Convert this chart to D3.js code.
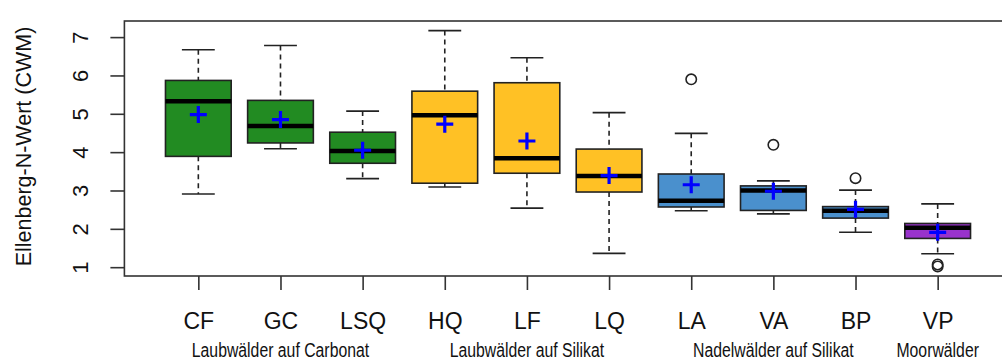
<!DOCTYPE html>
<html>
<head>
<meta charset="utf-8">
<script src="https://cdn.jsdelivr.net/npm/d3@7"></script>
<style>
  html, body { margin: 0; padding: 0; background: #fff; }
  svg { display: block; }
  text { font-family: "Liberation Sans", Arial, Helvetica, sans-serif; fill: #111; }
</style>
</head>
<body>
<div id="chart"></div>
<script>
// Ellenberg N indicator values (community weighted means) per forest type
const categories  = ["CF", "GC", "LSQ", "HQ", "LF", "LQ", "LA", "VA", "BP", "VP"];
const whiskerLow  = [2.91, 4.09, 3.31, 3.09, 2.54, 1.36, 2.47, 2.39, 1.91, 1.35];
const q1          = [3.89, 4.24, 3.71, 3.19, 3.45, 2.96, 2.57, 2.48, 2.28, 1.75];
const medians     = [5.33, 4.68, 4.03, 4.96, 3.84, 3.38, 2.73, 3.00, 2.47, 2.03];
const q3          = [5.87, 5.35, 4.52, 5.59, 5.81, 4.08, 3.43, 3.12, 2.58, 2.14];
const whiskerHigh = [6.67, 6.78, 5.07, 7.17, 6.46, 5.03, 4.49, 3.25, 3.01, 2.65];
const means       = [4.98, 4.85, 4.05, 4.73, 4.29, 3.39, 3.15, 2.98, 2.51, 1.91];
const outliers    = [[], [], [], [], [], [], [5.90], [4.19], [3.32], [1.07, 1.02]];

// forest group of each category and the group captions under the axis
const groupIndex   = [0, 0, 0, 1, 1, 1, 2, 2, 2, 3];
const groupLabels  = ["Laubwälder auf Carbonat", "Laubwälder auf Silikat", "Nadelwälder auf Silikat", "Moorwälder"];
const groupCenters = ["GC", "LF", "VA", "VP"];
const groupColors  = ["#228B22", "#FFC125", "#4A90CD", "#9932CC"];

const yTicks = [1, 2, 3, 4, 5, 6, 7];
const yTitle = "Ellenberg-N-Wert (CWM)";

const W = 1002, H = 360;
const plot = { left: 124.4, right: 1011.6, top: 21, bottom: 276 };

const svg = d3.select("#chart").append("svg")
  .attr("width", W).attr("height", H);

// box positions 1..n, padded like a base boxplot
const x = d3.scaleLinear()
  .domain([0.1, categories.length + 0.9])
  .range([plot.left, plot.right]);
const step = x(2) - x(1);
const boxW = step * 0.8;
const capW = boxW * 0.5;

const y = d3.scaleLinear()
  .domain([0.77, 7.42])
  .range([plot.bottom, plot.top]);

const data = categories.map((c, i) => ({
  cat: c, i: i + 1,
  lo: whiskerLow[i], q1: q1[i], med: medians[i], q3: q3[i], hi: whiskerHigh[i],
  mean: means[i], out: outliers[i], color: groupColors[groupIndex[i]]
}));

const g = svg.append("g");
const box = g.selectAll("g.box").data(data).join("g").attr("class", "box");

// dashed whiskers
box.append("line")
  .attr("x1", d => x(d.i)).attr("x2", d => x(d.i))
  .attr("y1", d => y(d.hi)).attr("y2", d => y(d.q3))
  .attr("stroke", "#222").attr("stroke-width", 1.6).attr("stroke-dasharray", "5,4");
box.append("line")
  .attr("x1", d => x(d.i)).attr("x2", d => x(d.i))
  .attr("y1", d => y(d.q1)).attr("y2", d => y(d.lo))
  .attr("stroke", "#222").attr("stroke-width", 1.6).attr("stroke-dasharray", "5,4");

// whisker caps
["hi", "lo"].forEach(k => {
  box.append("line")
    .attr("x1", d => x(d.i) - capW / 2).attr("x2", d => x(d.i) + capW / 2)
    .attr("y1", d => y(d[k])).attr("y2", d => y(d[k]))
    .attr("stroke", "#222").attr("stroke-width", 1.6);
});

// interquartile boxes
box.append("rect")
  .attr("x", d => x(d.i) - boxW / 2).attr("width", boxW)
  .attr("y", d => y(d.q3)).attr("height", d => y(d.q1) - y(d.q3))
  .attr("fill", d => d.color).attr("stroke", "#222").attr("stroke-width", 1.6);

// medians
box.append("line")
  .attr("x1", d => x(d.i) - boxW / 2).attr("x2", d => x(d.i) + boxW / 2)
  .attr("y1", d => y(d.med)).attr("y2", d => y(d.med))
  .attr("stroke", "#000").attr("stroke-width", 4.5);

// outliers
box.selectAll("circle").data(d => d.out.map(v => ({ i: d.i, v }))).join("circle")
  .attr("cx", d => x(d.i)).attr("cy", d => y(d.v)).attr("r", 5.2)
  .attr("fill", "none").attr("stroke", "#222").attr("stroke-width", 1.6);

// means as blue plus signs
const plus = 8.5;
box.append("path")
  .attr("d", d => {
    const cx = x(d.i), cy = y(d.mean);
    return `M${cx - plus},${cy}H${cx + plus}M${cx},${cy - plus}V${cy + plus}`;
  })
  .attr("stroke", "#0000FF").attr("stroke-width", 3.2).attr("fill", "none");

// plot frame
svg.append("rect")
  .attr("x", plot.left).attr("y", plot.top)
  .attr("width", plot.right - plot.left).attr("height", plot.bottom - plot.top)
  .attr("fill", "none").attr("stroke", "#333").attr("stroke-width", 1.6);

// y axis
const yAxis = d3.axisLeft(y).tickValues(yTicks).tickSize(14).tickPadding(6).tickFormat(d3.format("d"));
const ya = svg.append("g").attr("transform", `translate(${plot.left},0)`).call(yAxis);
ya.select(".domain").remove();
ya.selectAll(".tick line").attr("stroke", "#333").attr("stroke-width", 1.6);
ya.selectAll(".tick text")
  .attr("font-size", 22).attr("fill", "#111")
  .attr("x", null).attr("dy", null)
  .attr("text-anchor", "middle")
  .attr("transform", "translate(-44,0) rotate(-90)")
  .attr("dy", "0.35em");

// x axis with category labels
const xAxis = d3.axisBottom(x).tickValues(data.map(d => d.i)).tickSize(14).tickPadding(10)
  .tickFormat(v => categories[v - 1]);
const xa = svg.append("g").attr("transform", `translate(0,${plot.bottom})`).call(xAxis);
xa.select(".domain").remove();
xa.selectAll(".tick line").attr("stroke", "#333").attr("stroke-width", 1.6);
xa.selectAll(".tick text").attr("font-size", 23).attr("fill", "#111")
  .attr("y", null).attr("dy", null).attr("y", 52.5);

// y axis title
svg.append("text")
  .attr("transform", `translate(31,${(plot.top + plot.bottom) / 2 - 2}) rotate(-90)`)
  .attr("text-anchor", "middle")
  .attr("font-size", 21.5)
  .text(yTitle);

// forest group captions, set in a narrow cut
svg.selectAll("text.group").data(groupLabels).join("text")
  .attr("class", "group")
  .attr("x", (d, k) => x(categories.indexOf(groupCenters[k]) + 1))
  .attr("y", 356.5)
  .attr("text-anchor", "middle")
  .attr("font-size", 19.5)
  .text(d => d)
  .each(function () {
    const w = this.getComputedTextLength();
    d3.select(this).attr("textLength", w * 0.81).attr("lengthAdjust", "spacingAndGlyphs");
  });
</script>
</body>
</html>
